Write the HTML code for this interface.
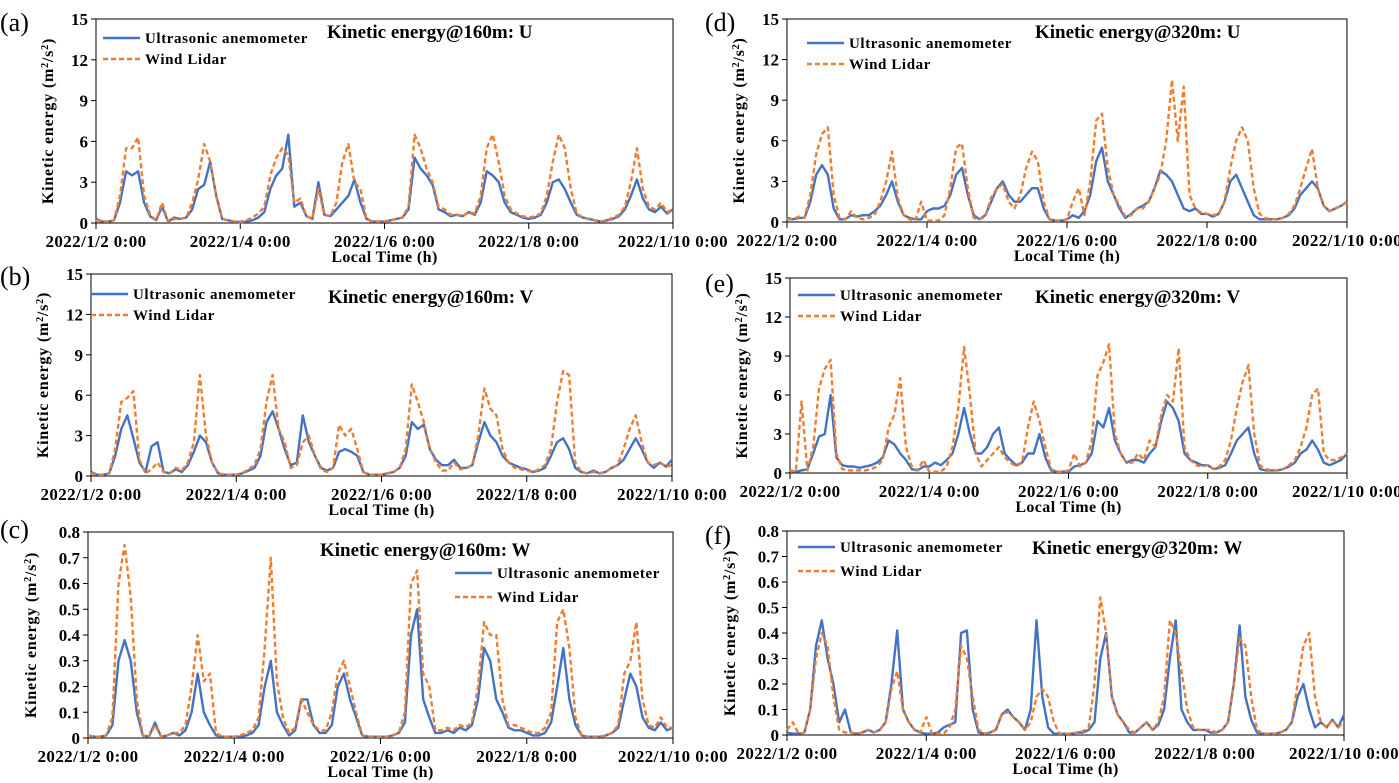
<!DOCTYPE html>
<html><head><meta charset="utf-8"><style>
html,body{margin:0;padding:0;background:#fff;}
svg{display:block;font-family:"Liberation Serif",serif;}
</style></head><body>
<svg id="fig" width="1399" height="783" viewBox="0 0 1399 783"></svg>
<script>
// ---- data: values every 2 h from 2022/1/2 0:00 to 2022/1/10 0:00 ----
const xTickLabels = ["2022/1/2 0:00","2022/1/4 0:00","2022/1/6 0:00","2022/1/8 0:00","2022/1/10 0:00"];
const yTicksUV = [0,3,6,9,12,15];
const yTicksW = [0,0.1,0.2,0.3,0.4,0.5,0.6,0.7,0.8];

const u160Ultra = [.3,.1,.1,.2,1.5,3.8,3.5,3.8,1.5,.5,.2,1.2, .1,.4,.3,.4,1,2.5,2.8,4.5,2,.3,.2,.1, .05,.1,.2,.4,.8,2.5,3.5,4,6.5,1.2,1.5,.5, .3,3,.6,.5,1,1.5,2,3.2,1.5,.3,.1,.1, .1,.2,.3,.4,1,4.8,4,3.5,2.8,1,.8,.5, .6,.5,.8,.6,1.5,3.8,3.5,3,1.5,.8,.6,.4, .3,.4,.6,1.5,3,3.2,2.5,1.5,.6,.4,.3,.2, .1,.2,.3,.5,1,2,3.2,1.8,1,.8,1.2,.7, 1];
const u160Lidar = [.2,.1,.1,.2,2,5.5,5.5,6.3,2,.6,.2,1.5, .1,.3,.3,.4,1.5,3.2,5.8,4.5,2,.3,.2,.1, .1,.2,.4,.7,1.2,3.5,4.8,5.5,5,1.5,1.8,.5, .3,2.5,.6,.5,1.5,4.5,5.8,3,2.5,.3,.1,.1, .1,.2,.3,.4,1.2,6.5,5.5,4,3,1.2,1,.6, .6,.5,.8,.7,2,5.5,6.5,4.5,2,1,.7,.5, .4,.5,.7,2,4.5,6.5,5.5,2.5,.7,.4,.3,.2, .1,.2,.4,.6,1.2,3,5.5,2.5,1.2,1,1.5,.8, 1];

const v160Ultra = [.3,.1,.1,.2,1.5,3.5,4.5,2.8,1,.3,2.2,2.5, .3,.2,.5,.3,.8,1.8,3,2.5,1,.2,.1,.1, .1,.2,.4,.6,1.5,4,4.8,3.5,2,.8,1,4.5, 2.5,1.5,.6,.4,.6,1.8,2,1.8,1.5,.3,.1,.1, .1,.2,.3,.6,1.5,4,3.5,3.8,2,1.2,.8,.8, 1.2,.6,.6,.8,2.5,4,3,2.5,1.5,1,.8,.6, .5,.3,.4,.6,1.5,2.5,2.8,2,.6,.3,.2,.4, .2,.3,.6,.8,1.2,2,2.8,2,1,.6,1,.7, 1.2];
const v160Lidar = [.2,.1,.1,.2,2,5.5,5.8,6.3,1.2,.2,.5,1, .3,.2,.6,.4,1,2.5,7.5,3,1,.2,.1,.1, .1,.2,.5,.8,2,5.5,7.5,3.5,2.5,.6,.8,2.5, 3,1.5,.5,.3,.6,3.8,3,3.5,2,.3,.1,.1, .1,.2,.3,.6,2,6.8,5.5,4,2,1,.4,.4, 1,.5,.6,.8,3,6.5,5,4.5,2,1,.6,.5, .4,.3,.5,.8,2,5.5,7.8,7.5,1,.3,.2,.3, .2,.3,.6,.8,2,3.5,4.5,2.5,1,.8,1,.7, .8];

const w160Ultra = [.01,.005,.005,.01,.05,.3,.38,.3,.1,.01,.005,.06, .005,.01,.02,.01,.03,.1,.25,.1,.05,.01,.005,.005, .005,.005,.01,.02,.05,.2,.3,.1,.05,.01,.03,.15, .15,.05,.02,.02,.05,.2,.25,.15,.08,.01,.005,.005, .005,.005,.01,.02,.06,.4,.5,.15,.08,.02,.02,.03, .02,.04,.03,.05,.15,.35,.3,.15,.1,.04,.03,.03, .02,.01,.01,.02,.06,.2,.35,.15,.05,.01,.005,.005, .005,.01,.02,.04,.15,.25,.2,.08,.04,.03,.06,.03, .04];
const w160Lidar = [.01,.005,.005,.01,.08,.6,.75,.55,.15,.01,.005,.05, .005,.01,.02,.02,.05,.2,.4,.22,.25,.02,.005,.005, .005,.01,.02,.03,.08,.35,.7,.22,.08,.02,.04,.15, .1,.05,.03,.03,.1,.25,.3,.2,.1,.01,.005,.005, .005,.005,.01,.02,.1,.6,.65,.25,.2,.03,.03,.04, .03,.05,.04,.06,.2,.45,.4,.4,.15,.05,.05,.04, .03,.02,.02,.04,.1,.45,.5,.35,.08,.01,.005,.005, .005,.01,.02,.05,.25,.3,.45,.15,.05,.04,.08,.04, .04];

const u320Ultra = [.3,.2,.3,.3,1.5,3.5,4.2,3.5,1,.2,.2,.5, .4,.5,.5,.8,1.2,2,3,1.5,.5,.3,.2,.2, .8,1,1,1.2,2,3.5,4,2,.5,.2,.5,1.5, 2.5,3,2,1.5,1.5,2,2.5,2.5,1,.2,.1,.1, .2,.5,.3,.8,2,4.5,5.5,3,2,1,.3,.6, 1,1.2,1.5,2.5,3.8,3.5,3,2,1,.8,1,.6, .6,.4,.6,1.5,3,3.5,2.5,1.5,.5,.2,.2,.2, .2,.3,.5,1,2,2.5,3,2.5,1.2,.8,1,1.2, 1.5];
const u320Lidar = [.2,.2,.4,.3,2,5,6.5,7,2,.3,.2,.8, .3,.2,.3,.5,1.5,3,5.2,1.8,.5,.2,.1,1.5, .1,.1,.1,.5,2.5,5.5,5.8,2.5,.3,.2,.4,1.8, 2.5,2.8,1.5,1,2,4,5.2,4.5,1.5,.2,.1,.1, .2,1.5,2.5,.5,3,7.5,8,4,2,1.2,.4,.5, 1,1,1.5,2.5,3.5,6,10.5,6,10,2,1,.7, .6,.5,.6,1.5,4,6,7,6,2.5,.6,.3,.2, .2,.3,.6,1.2,2.5,4,5.4,2.5,1.2,.8,1,1.2, 1.5];

const v320Ultra = [.2,.1,.2,.3,1.5,2.8,3,6,1.2,.6,.5,.5, .4,.5,.6,.8,1.2,2.5,2.2,1.5,1,.3,.2,.5, .5,.8,.6,1,1.5,3,5,3,1.5,1.5,2,3, 3.5,1.5,1,.6,.8,1.5,1.5,3,1.2,.2,.1,.1, .1,.5,.6,.8,1.5,4,3.5,5,2.5,1.5,.8,1, 1,.8,1.5,2,4,5.5,5,4,1.5,1,.8,.6, .6,.3,.4,.6,1.5,2.5,3,3.5,1.5,.3,.2,.2, .2,.3,.5,.8,1.5,1.8,2.5,1.8,.8,.6,.8,1, 1.5];
const v320Lidar = [.2,.1,5.5,.2,2,6.5,8,8.7,1.5,.3,.2,.2, .2,.2,.3,.5,1,3.5,4.5,7.3,2,.5,.2,1, .1,.1,.1,.5,2,5,9.7,6,1.5,.5,1,1.5, 2,1.2,.8,.5,.8,3.5,5.5,4,2,.3,.1,.1, .2,1.5,.5,.8,2.5,7.5,8.5,9.9,3,1.5,.8,.8, 1.5,1,2.5,2,4.5,6,5.5,9.6,2,1,.6,.5, .6,.3,.5,1,2.5,5,7,8.3,3,.6,.3,.2, .2,.3,.6,1,2,3.5,6,6.5,1.5,1,1,1.2, 1.5];

const w320Ultra = [.01,.005,.005,.01,.1,.35,.45,.3,.2,.05,.1,.01, .005,.01,.02,.01,.02,.05,.2,.41,.1,.05,.02,.01, .005,.005,.01,.03,.04,.05,.4,.41,.1,.01,.005,.01, .02,.08,.1,.07,.05,.02,.1,.45,.15,.03,.005,.005, .005,.005,.01,.01,.02,.05,.3,.4,.15,.08,.05,.01, .01,.03,.05,.02,.04,.1,.3,.45,.1,.05,.02,.02, .02,.01,.01,.02,.05,.2,.43,.15,.06,.01,.005,.005, .005,.01,.02,.05,.15,.2,.1,.03,.05,.03,.06,.03, .08];
const w320Lidar = [.02,.05,.005,.01,.1,.3,.4,.35,.15,.02,.01,.01, .005,.01,.02,.01,.02,.05,.18,.25,.1,.05,.02,.01, .07,.005,.005,.005,.03,.1,.35,.3,.15,.02,.005,.01, .02,.08,.09,.07,.05,.02,.05,.15,.18,.15,.05,.005, .005,.005,.01,.015,.03,.2,.54,.4,.15,.08,.05,.02, .01,.03,.05,.02,.05,.15,.45,.4,.25,.1,.03,.02, .02,.02,.01,.02,.05,.2,.38,.35,.15,.02,.005,.005, .005,.01,.02,.05,.2,.35,.4,.15,.05,.03,.06,.03, .05];

const NS='http://www.w3.org/2000/svg';
const svg=document.getElementById('fig');
const BLUE='#4472C4', ORANGE='#ED7D31';
function mk(tag,attrs,parent,text){const e=document.createElementNS(NS,tag);for(const k in attrs)e.setAttribute(k,attrs[k]);if(text!==undefined)e.textContent=text;(parent||svg).appendChild(e);return e;}

const panels=[
 {id:'a',x0:96,x1:673,yt:19,y0:223,w:false,ultra:u160Ultra,lidar:u160Lidar,title:'Kinetic energy@160m: U',tx:327,ty:38,lx:103,ly:38,lbx:0,lby:17},
 {id:'b',x0:91,x1:672,yt:274,y0:476,w:false,ultra:v160Ultra,lidar:v160Lidar,title:'Kinetic energy@160m: V',tx:328,ty:303,lx:91,ly:294,lbx:0,lby:271},
 {id:'c',x0:88,x1:673,yt:532,y0:738,w:true,ultra:w160Ultra,lidar:w160Lidar,title:'Kinetic energy@160m: W',tx:320,ty:556,lx:455,ly:573,lbx:0,lby:524},
 {id:'d',x0:787,x1:1347,yt:19,y0:222,w:false,ultra:u320Ultra,lidar:u320Lidar,title:'Kinetic energy@320m: U',tx:1035,ty:38,lx:807,ly:43,lbx:705,lby:17},
 {id:'e',x0:790,x1:1347,yt:278,y0:473,w:false,ultra:v320Ultra,lidar:v320Lidar,title:'Kinetic energy@320m: V',tx:1035,ty:303,lx:798,ly:295,lbx:705,lby:278},
 {id:'f',x0:787,x1:1344,yt:531,y0:735,w:true,ultra:w320Ultra,lidar:w320Lidar,title:'Kinetic energy@320m: W',tx:1032,ty:554,lx:798,ly:547,lbx:705,lby:530}
];

panels.forEach(p=>{
 const g=mk('g',{});
 
 
 const ymax=p.w?0.8:15;
 const ticks=p.w?yTicksW:yTicksUV;
 const xs=h=>p.x0+(p.x1-p.x0)*h/192;
 const ys=v=>p.y0-(p.y0-p.yt)*v/ymax;
 const lb=mk('text',{x:p.lbx,y:p.lby+14,'font-size':26},g,'('+p.id+')');
 
 
 const fr=mk('rect',{x:p.x0,y:p.yt,width:p.x1-p.x0,height:p.y0-p.yt,fill:'none',stroke:'#000','stroke-width':1},g);
 
 
 ticks.forEach(t=>{
  const y=ys(t);
  mk('line',{x1:p.x0-5,x2:p.x0,y1:y,y2:y,stroke:'#000'},g);
  const tl=mk('text',{x:p.x0-8,y:y+6,'text-anchor':'end','font-size':17,'font-weight':'bold'},g,p.w?(t===0?'0':t.toFixed(1)):String(t));
  
  
 });
 xTickLabels.forEach((s,i)=>{
  const x=xs(i*48);
  mk('line',{x1:x,x2:x,y1:p.y0,y2:p.y0+6,stroke:'#000'},g);
  const tl=mk('text',{x:x,y:p.y0+24,'text-anchor':'middle','font-size':17,'font-weight':'bold','letter-spacing':0.4},g,s);
  
  
 });
 const xt=mk('text',{x:xs(96),y:p.y0+39,'text-anchor':'middle','font-size':16,'font-weight':'bold','letter-spacing':0.4},g,'Local Time (h)');
 
 
 const cy=(p.yt+p.y0)/2, cx=p.x0-(p.w?52:43);
 const yt=mk('text',{x:cx,y:cy,'text-anchor':'middle','font-size':16,'font-weight':'bold','letter-spacing':0.8,transform:`rotate(-90 ${cx} ${cy})`},g);
 
 
 yt.appendChild(document.createTextNode('Kinetic energy (m'));
 mk('tspan',{'baseline-shift':'super','font-size':10},yt,'2');
 yt.appendChild(document.createTextNode('/s'));
 mk('tspan',{'baseline-shift':'super','font-size':10},yt,'2');
 yt.appendChild(document.createTextNode(')'));
 const path=arr=>arr.map((v,i)=>(i?'L':'M')+xs(i*192/(arr.length-1)).toFixed(1)+','+ys(v).toFixed(1)).join('');
 const su=mk('path',{d:path(p.ultra),fill:'none',stroke:BLUE,'stroke-width':2.4,'stroke-linejoin':'round'},g);
 
 
 const sl=mk('path',{d:path(p.lidar),fill:'none',stroke:ORANGE,'stroke-width':2.4,'stroke-dasharray':'5,3','stroke-linejoin':'round'},g);
 
 
 const ti=mk('text',{x:p.tx,y:p.ty,'font-size':19,'font-weight':'bold'},g,p.title);
 
 
 const lg=mk('g',{},g);
 
 
 const gap=p.w?24:21;
 mk('line',{x1:p.lx,x2:p.lx+37,y1:p.ly,y2:p.ly,stroke:BLUE,'stroke-width':2.5},lg);
 const l1=mk('text',{x:p.lx+42,y:p.ly+5,'font-size':15,'font-weight':'bold','letter-spacing':0.6},lg,'Ultrasonic anemometer');
 
 
 mk('line',{x1:p.lx,x2:p.lx+37,y1:p.ly+gap,y2:p.ly+gap,stroke:ORANGE,'stroke-width':2.5,'stroke-dasharray':'5,3'},lg);
 const l2=mk('text',{x:p.lx+42,y:p.ly+gap+5,'font-size':15,'font-weight':'bold','letter-spacing':0.6},lg,'Wind Lidar');
 
 
});
</script>
</body></html>
